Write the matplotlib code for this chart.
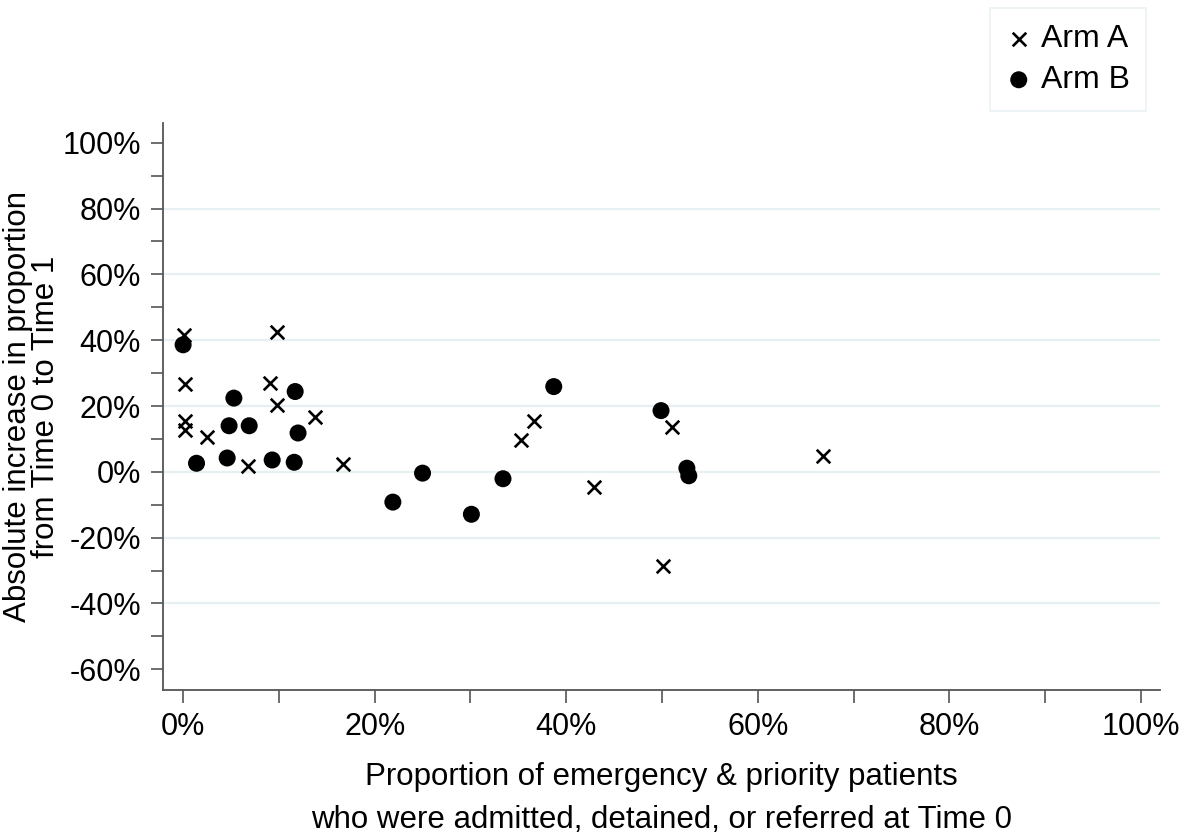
import matplotlib
matplotlib.use("Agg")
import matplotlib.pyplot as plt
from matplotlib.ticker import MultipleLocator, FuncFormatter

plt.rcParams['font.family'] = ['Liberation Sans', 'DejaVu Sans']

# Data (percent)
arm_a_x = [0.1, 0.2, 0.2, 0.2, 2.5, 6.8, 9.1, 9.8, 9.8, 13.8, 16.7,
           35.3, 36.6, 42.9, 50.1, 51.0, 66.8]
arm_a_y = [41.6, 26.7, 15.5, 12.6, 10.5, 1.9, 27.0, 42.6, 20.4, 16.8, 2.3,
           9.7, 15.5, -4.7, -28.6, 13.6, 4.9]

arm_b_x = [0.0, 1.4, 4.6, 4.8, 5.3, 6.9, 9.3, 11.6, 11.7, 12.0,
           21.9, 25.0, 30.1, 33.4, 38.7, 49.9, 52.6, 52.8]
arm_b_y = [38.6, 2.6, 4.2, 14.0, 22.4, 14.0, 3.6, 2.9, 24.4, 11.8,
           -9.2, -0.4, -12.9, -2.1, 25.9, 18.6, 1.1, -1.2]

x_label = "Proportion of emergency & priority patients\nwho were admitted, detained, or referred at Time 0"
y_label = "Absolute increase in proportion\nfrom Time 0 to Time 1"

fig = plt.figure(figsize=(11.9, 8.36), dpi=100)
ax = fig.add_axes([163/1190, 1-690/836, (1160-163)/1190, (690-123)/836])

ax.scatter(arm_a_x, arm_a_y, marker='x', s=95, linewidths=1.9, color='black',
           label='Arm A', zorder=3)
ax.scatter(arm_b_x, arm_b_y, marker='o', s=150, color='black', edgecolors='none',
           label='Arm B', zorder=3)

ax.set_xlim(-2.1, 102)
ax.set_ylim(-66.3, 106)

ax.xaxis.set_major_locator(MultipleLocator(20))
ax.xaxis.set_minor_locator(MultipleLocator(10))
ax.yaxis.set_major_locator(MultipleLocator(20))
ax.yaxis.set_minor_locator(MultipleLocator(10))
fmt = FuncFormatter(lambda v, p: f"{v:.0f}%")
ax.xaxis.set_major_formatter(fmt)
ax.yaxis.set_major_formatter(fmt)

spine_col = '#555555'
for s in ['top', 'right']:
    ax.spines[s].set_visible(False)
for s in ['left', 'bottom']:
    ax.spines[s].set_color(spine_col)
    ax.spines[s].set_linewidth(1.3)

ax.tick_params(axis='both', which='both', direction='out', length=9, width=1.2,
               color=spine_col, labelsize=22, labelcolor='black', pad=7)

for yv in [-40, -20, 0, 20, 40, 60, 80]:
    ax.axhline(yv, color='#e6eff1', linewidth=1.6, zorder=0)

ax.set_xlabel(x_label, fontsize=22.5, labelpad=14, linespacing=1.6)
ax.set_ylabel(y_label, fontsize=22.5, labelpad=1, linespacing=0.92)

leg = ax.legend(loc='upper left', bbox_to_anchor=(990/1190, 1-8/836),
                bbox_transform=fig.transFigure, frameon=True, fontsize=23,
                handletextpad=0.3, borderpad=0.5, labelspacing=0.35,
                borderaxespad=0, fancybox=False, handlelength=0.8,
                markerscale=1.0)
leg.get_frame().set_edgecolor('#e6eff1')
leg.get_frame().set_linewidth(1.2)

fig.savefig('out.png', dpi=100)
